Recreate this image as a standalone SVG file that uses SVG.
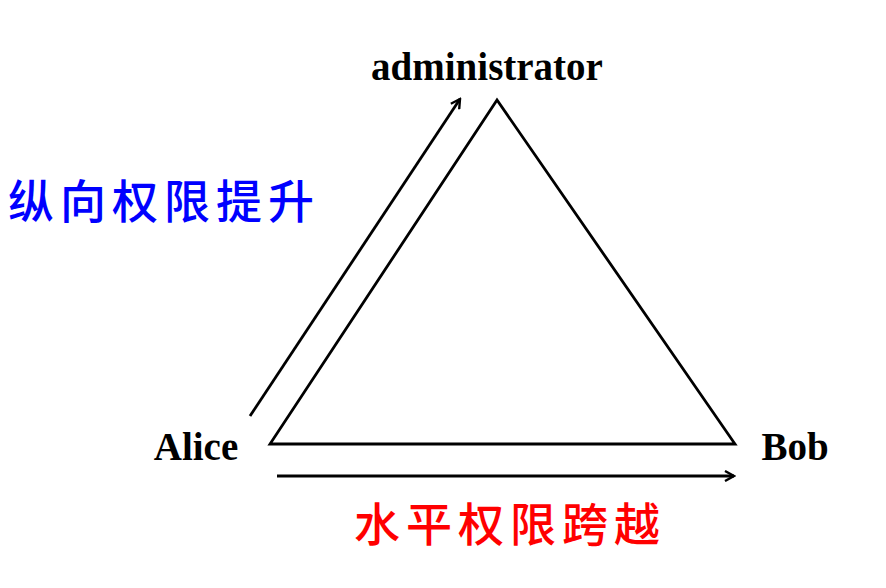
<svg xmlns="http://www.w3.org/2000/svg" width="886" height="588" viewBox="0 0 886 588">
<style>
.lbl{font-family:"Liberation Serif","Times New Roman",serif;font-weight:bold;font-size:39px;fill:#000}
.cn{font-family:"Noto Sans CJK SC",sans-serif;font-size:46px;letter-spacing:6px;font-weight:500}
.ln{stroke:#000;stroke-width:2.8;fill:none}
</style>
<defs>
<marker id="ah" viewBox="0 0 12 12" refX="10" refY="6" markerWidth="12" markerHeight="12" markerUnits="userSpaceOnUse" orient="auto">
<path d="M1,1 L10,6 L1,11" fill="none" stroke="#000" stroke-width="2.4"/>
</marker>
</defs>
<rect width="886" height="588" fill="#fff"/>
<g id="triangle"><polygon class="ln" points="497,100 270,444 735,444" stroke-linejoin="miter"/></g>
<g id="admin"><text class="lbl" x="487" y="80" text-anchor="middle">administrator</text></g>
<g id="alice"><text class="lbl" x="196" y="460" text-anchor="middle">Alice</text></g>
<g id="bob"><text class="lbl" x="795" y="460" text-anchor="middle">Bob</text></g>
<g id="connectors">
<line class="ln" x1="250" y1="416" x2="460" y2="99" marker-end="url(#ah)"/>
<line class="ln" x1="277" y1="476" x2="734" y2="476" marker-end="url(#ah)"/>
</g>
<g id="vertical"><text class="cn" x="8" y="218" fill="#0000ff">纵向权限提升</text></g>
<g id="horizontal"><text class="cn" x="354" y="541" fill="#ff0000">水平权限跨越</text></g>
</svg>
